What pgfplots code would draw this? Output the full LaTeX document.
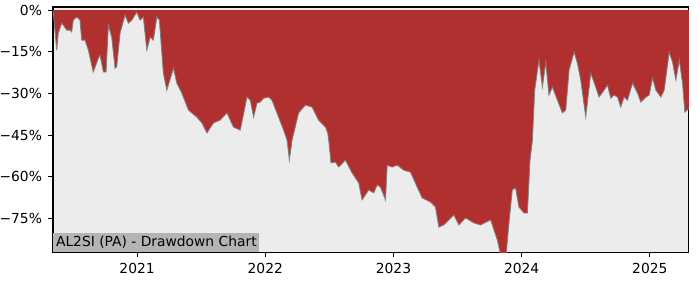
\documentclass[border=0pt]{standalone}
\usepackage{fontspec}
\setmainfont{DejaVu Sans}
\usepackage{pgfplots}
\pgfplotsset{compat=1.18}
\definecolor{ddred}{RGB}{176,48,48}
\definecolor{bgg}{RGB}{236,236,236}
\definecolor{lblg}{RGB}{180,180,180}
\begin{document}
\begin{tikzpicture}
\begin{axis}[
  scale only axis, width=459.6pt, height=177.1pt,
  xmin=2020.344, xmax=2025.305, ymin=-87.1, ymax=1.1,
  axis background/.style={fill=bgg},
  axis line style={black, line width=0.8pt},
  xtick={2021,2022,2023,2024,2025},
  xticklabels={2021,2022,2023,2024,2025},
  ytick={-75,-60,-45,-30,-15,0},
  yticklabels={−75\%,−60\%,−45\%,−30\%,−15\%,0\%},
  xtick pos=bottom, ytick pos=left,
  tick align=outside, major tick length=3.5pt,
  tick style={black, line width=0.8pt},
  /pgf/number format/assume math mode=true,
  ticklabel style={font=\fontsize{10}{12}\selectfont},
  xticklabel style={yshift=-1pt},
  yticklabel style={xshift=-1pt},
  clip=true,
]
\addplot[fill=ddred, draw=none] coordinates {
(2020.344,0)(2020.352,-3.6)(2020.373,-14.4)(2020.385,-8.3)(2020.412,-4.7)(2020.424,-5.4)(2020.451,-7.2)(2020.477,-7.2)(2020.490,-7.9)(2020.502,-3.6)(2020.529,-2.5)(2020.555,-3.6)(2020.568,-10.8)(2020.594,-10.8)(2020.620,-14.4)(2020.658,-22.3)(2020.698,-17.3)(2020.711,-16.2)(2020.737,-22.3)(2020.758,-22.3)(2020.776,-5.4)(2020.802,-9.7)(2020.828,-20.9)(2020.841,-20.5)(2020.867,-8.3)(2020.906,-1.8)(2020.932,-4.7)(2020.959,-3.6)(2020.998,-0.7)(2021.023,-3.6)(2021.049,-2.5)(2021.076,-14.4)(2021.102,-9.7)(2021.127,-10.8)(2021.154,-2.5)(2021.174,-3.6)(2021.205,-22.7)(2021.232,-28.8)(2021.284,-20.9)(2021.310,-26.3)(2021.349,-29.9)(2021.401,-36.0)(2021.466,-38.5)(2021.505,-40.6)(2021.545,-44.2)(2021.596,-40.6)(2021.648,-39.6)(2021.701,-37.0)(2021.752,-42.1)(2021.805,-43.2)(2021.857,-31.3)(2021.883,-32.4)(2021.909,-38.5)(2021.935,-33.5)(2021.961,-33.1)(2021.987,-31.7)(2022.026,-31.3)(2022.052,-32.4)(2022.091,-37.0)(2022.143,-43.2)(2022.170,-46.8)(2022.188,-54.0)(2022.209,-46.8)(2022.260,-37.0)(2022.313,-34.2)(2022.365,-34.9)(2022.416,-39.6)(2022.469,-42.1)(2022.487,-44.2)(2022.495,-46.8)(2022.513,-55.0)(2022.547,-54.7)(2022.573,-56.5)(2022.625,-54.0)(2022.677,-58.6)(2022.729,-62.2)(2022.755,-68.3)(2022.807,-64.7)(2022.846,-65.8)(2022.873,-62.9)(2022.898,-63.7)(2022.938,-68.3)(2022.951,-55.8)(2022.990,-56.5)(2023.029,-55.8)(2023.080,-57.6)(2023.133,-58.3)(2023.185,-63.7)(2023.224,-67.6)(2023.289,-69.1)(2023.328,-70.9)(2023.354,-78.1)(2023.393,-77.3)(2023.432,-75.5)(2023.471,-73.7)(2023.510,-77.3)(2023.563,-74.8)(2023.627,-76.6)(2023.680,-77.3)(2023.758,-75.5)(2023.810,-82.7)(2023.836,-88.0)(2023.875,-90.0)(2023.901,-76.6)(2023.927,-64.7)(2023.953,-64.0)(2023.979,-70.9)(2024.018,-73.0)(2024.045,-73.0)(2024.065,-54.0)(2024.084,-46.8)(2024.102,-28.8)(2024.135,-18.0)(2024.162,-27.7)(2024.188,-18.7)(2024.213,-30.6)(2024.240,-27.7)(2024.279,-32.4)(2024.318,-37.0)(2024.344,-36.0)(2024.370,-21.6)(2024.409,-15.1)(2024.435,-19.1)(2024.461,-25.2)(2024.500,-38.5)(2024.539,-22.7)(2024.578,-27.7)(2024.604,-31.3)(2024.643,-28.8)(2024.670,-27.0)(2024.695,-31.7)(2024.721,-30.6)(2024.748,-31.3)(2024.773,-34.9)(2024.799,-31.3)(2024.826,-32.4)(2024.865,-26.3)(2024.904,-29.9)(2024.930,-33.1)(2024.969,-31.3)(2024.995,-30.6)(2025.021,-24.5)(2025.047,-28.8)(2025.086,-31.3)(2025.112,-28.8)(2025.151,-15.1)(2025.177,-18.7)(2025.203,-25.2)(2025.230,-18.0)(2025.255,-26.3)(2025.273,-36.7)(2025.307,-35.3)
} \closedcycle;
\addplot[draw=gray, line width=0.6pt] coordinates {
(2020.344,0)(2020.352,-3.6)(2020.373,-14.4)(2020.385,-8.3)(2020.412,-4.7)(2020.424,-5.4)(2020.451,-7.2)(2020.477,-7.2)(2020.490,-7.9)(2020.502,-3.6)(2020.529,-2.5)(2020.555,-3.6)(2020.568,-10.8)(2020.594,-10.8)(2020.620,-14.4)(2020.658,-22.3)(2020.698,-17.3)(2020.711,-16.2)(2020.737,-22.3)(2020.758,-22.3)(2020.776,-5.4)(2020.802,-9.7)(2020.828,-20.9)(2020.841,-20.5)(2020.867,-8.3)(2020.906,-1.8)(2020.932,-4.7)(2020.959,-3.6)(2020.998,-0.7)(2021.023,-3.6)(2021.049,-2.5)(2021.076,-14.4)(2021.102,-9.7)(2021.127,-10.8)(2021.154,-2.5)(2021.174,-3.6)(2021.205,-22.7)(2021.232,-28.8)(2021.284,-20.9)(2021.310,-26.3)(2021.349,-29.9)(2021.401,-36.0)(2021.466,-38.5)(2021.505,-40.6)(2021.545,-44.2)(2021.596,-40.6)(2021.648,-39.6)(2021.701,-37.0)(2021.752,-42.1)(2021.805,-43.2)(2021.857,-31.3)(2021.883,-32.4)(2021.909,-38.5)(2021.935,-33.5)(2021.961,-33.1)(2021.987,-31.7)(2022.026,-31.3)(2022.052,-32.4)(2022.091,-37.0)(2022.143,-43.2)(2022.170,-46.8)(2022.188,-54.0)(2022.209,-46.8)(2022.260,-37.0)(2022.313,-34.2)(2022.365,-34.9)(2022.416,-39.6)(2022.469,-42.1)(2022.487,-44.2)(2022.495,-46.8)(2022.513,-55.0)(2022.547,-54.7)(2022.573,-56.5)(2022.625,-54.0)(2022.677,-58.6)(2022.729,-62.2)(2022.755,-68.3)(2022.807,-64.7)(2022.846,-65.8)(2022.873,-62.9)(2022.898,-63.7)(2022.938,-68.3)(2022.951,-55.8)(2022.990,-56.5)(2023.029,-55.8)(2023.080,-57.6)(2023.133,-58.3)(2023.185,-63.7)(2023.224,-67.6)(2023.289,-69.1)(2023.328,-70.9)(2023.354,-78.1)(2023.393,-77.3)(2023.432,-75.5)(2023.471,-73.7)(2023.510,-77.3)(2023.563,-74.8)(2023.627,-76.6)(2023.680,-77.3)(2023.758,-75.5)(2023.810,-82.7)(2023.836,-88.0)(2023.875,-90.0)(2023.901,-76.6)(2023.927,-64.7)(2023.953,-64.0)(2023.979,-70.9)(2024.018,-73.0)(2024.045,-73.0)(2024.065,-54.0)(2024.084,-46.8)(2024.102,-28.8)(2024.135,-18.0)(2024.162,-27.7)(2024.188,-18.7)(2024.213,-30.6)(2024.240,-27.7)(2024.279,-32.4)(2024.318,-37.0)(2024.344,-36.0)(2024.370,-21.6)(2024.409,-15.1)(2024.435,-19.1)(2024.461,-25.2)(2024.500,-38.5)(2024.539,-22.7)(2024.578,-27.7)(2024.604,-31.3)(2024.643,-28.8)(2024.670,-27.0)(2024.695,-31.7)(2024.721,-30.6)(2024.748,-31.3)(2024.773,-34.9)(2024.799,-31.3)(2024.826,-32.4)(2024.865,-26.3)(2024.904,-29.9)(2024.930,-33.1)(2024.969,-31.3)(2024.995,-30.6)(2025.021,-24.5)(2025.047,-28.8)(2025.086,-31.3)(2025.112,-28.8)(2025.151,-15.1)(2025.177,-18.7)(2025.203,-25.2)(2025.230,-18.0)(2025.255,-26.3)(2025.273,-36.7)(2025.307,-35.3)
};
\node[anchor=south west, fill=lblg, inner xsep=2pt, inner ysep=2.5pt, font=\fontsize{10}{12}\selectfont] at (rel axis cs:0,0) {AL2SI (PA) - Drawdown Chart};
\end{axis}
\pgfresetboundingbox
\path[use as bounding box] (-38.3pt,-20.2pt) rectangle (467.6pt,182.2pt);
\end{tikzpicture}
\end{document}
